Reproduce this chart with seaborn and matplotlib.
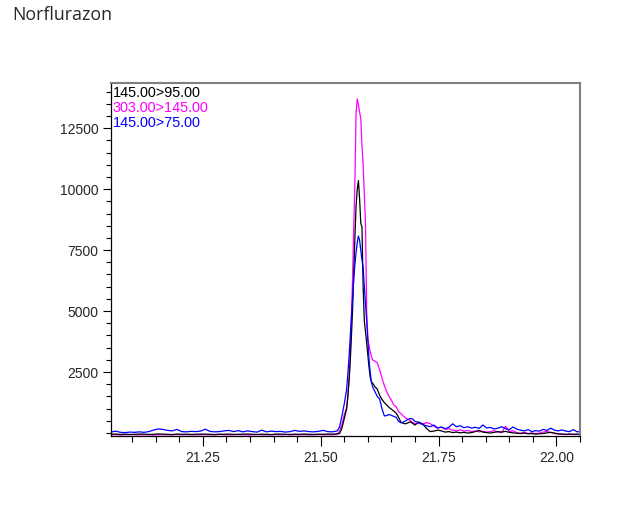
import numpy as np
import pandas as pd
import seaborn as sns
import matplotlib
matplotlib.use("Agg")
import matplotlib.pyplot as plt
from matplotlib.ticker import MultipleLocator, FixedLocator, FormatStrFormatter

# Retention time (min), shared scan times for the three MRM transitions
time_min = [
    21.055, 21.065, 21.075, 21.085, 21.095, 21.105, 21.115, 21.125, 21.135, 21.145,
    21.155, 21.165, 21.175, 21.185, 21.195, 21.205, 21.215, 21.225, 21.235, 21.245,
    21.255, 21.265, 21.275, 21.285, 21.295, 21.305, 21.315, 21.325, 21.335, 21.345,
    21.355, 21.365, 21.375, 21.385, 21.395, 21.405, 21.415, 21.425, 21.435, 21.445,
    21.455, 21.465, 21.475, 21.485, 21.495, 21.505, 21.515, 21.525, 21.535,
    21.540, 21.545, 21.550, 21.555, 21.5575, 21.560, 21.5625, 21.565, 21.5675, 21.570,
    21.5725, 21.575, 21.5775, 21.580, 21.5825, 21.585, 21.5875, 21.590, 21.5925, 21.595,
    21.5975, 21.600, 21.6025, 21.605, 21.6075, 21.610, 21.615, 21.620, 21.625, 21.630,
    21.635, 21.640, 21.645, 21.650, 21.655, 21.660, 21.665, 21.670, 21.675, 21.680,
    21.685, 21.690, 21.695, 21.700,
    21.708, 21.716, 21.724, 21.732, 21.740, 21.748, 21.756, 21.764, 21.772, 21.780,
    21.788, 21.796, 21.804, 21.812, 21.820, 21.828, 21.836, 21.844, 21.852, 21.860,
    21.868, 21.876, 21.884, 21.892, 21.900, 21.908, 21.916, 21.924, 21.932, 21.940,
    21.948, 21.956, 21.964, 21.972, 21.980, 21.988, 21.996, 22.004, 22.012, 22.020,
    22.028, 22.036, 22.044, 22.052,
]

# 145.00>95.00 (black)
trace_145_95 = [
    -50, -40, -55, -45, -60, -50, -40, -45, -55, -50,
    -35, -45, -50, -60, -40, -50, -45, -55, -50, -40,
    -45, -50, -60, -45, -50, -40, -55, -50, -45, -40,
    -50, -55, -45, -50, -60, -45, -40, -50, -55, -45,
    -50, -40, -50, -55, -45, -50, -40, -45, -30,
    -20, 200, 600, 1000, 1500, 2100, 2900, 3900, 5000, 6500,
    8000, 9300, 10000, 10350, 9600, 8600, 8450, 6000, 4600, 4150,
    3700, 3200, 2700, 2300, 2100, 2050, 1900, 1800, 1550, 1380,
    1250, 1150, 1050, 980, 900, 820, 650, 450, 400, 380,
    420, 460, 400, 330,
    450, 380, 200, 60, 80, 120, 90, 40, 60, 20,
    40, 10, 30, 0, 20, 60, 110, 40, 20, 0,
    30, 60, 40, 70, 30, 10, -10, -20, 0, -30,
    -20, -40, -30, -20, 10, 30, 0, -30, -40, -50,
    -40, -50, -45, -50,
]

# 303.00>145.00 (magenta)
trace_303_145 = [
    -70, -65, -75, -70, -60, -70, -75, -65, -70, -80,
    -70, -65, -70, -75, -60, -70, -65, -75, -70, -70,
    -65, -75, -70, -60, -70, -75, -70, -65, -70, -75,
    -70, -65, -70, -75, -70, -60, -70, -65, -75, -70,
    -70, -65, -75, -70, -60, -70, -65, -70, -50,
    80, 350, 750, 1050, 1500, 2200, 3100, 4700, 6300, 8400,
    10300, 13100, 13700, 13450, 13150, 12900, 11800, 11000, 9800, 8600,
    5000, 3900, 3600, 3350, 3150, 3000, 2950, 2880, 2600, 2250,
    1950, 1700, 1500, 1350, 1150, 1080, 880, 800, 700, 620,
    560, 520, 430, 390,
    400, 360, 430, 390, 280, 200, 240, 150, 180, 120,
    90, 130, 80, 110, 60, 90, 50, 70, 40, 60,
    100, 40, 20, 280, 60, 100, 20, -10, 30, -20,
    10, -30, 0, 40, 70, 20, -20, -40, -50, -60,
    -50, -60, -55, -60,
]

# 145.00>75.00 (blue)
trace_145_75 = [
    40, 80, 30, 20, 40, 30, 50, 30, 60, 120,
    170, 150, 110, 90, 150, 60, 50, 70, 60, 80,
    160, 70, 50, 60, 90, 110, 60, 100, 50, 90,
    60, 40, 120, 50, 80, 60, 70, 40, 60, 110,
    70, 90, 60, 50, 70, 110, 60, 50, 90,
    250, 700, 1200, 1800, 2400, 3100, 3900, 4700, 5500, 6300,
    6900, 7400, 7800, 8080, 7900, 7500, 7100, 6800, 6000, 5300,
    4600, 3800, 3000, 2500, 2100, 1900, 1700, 1500, 1400, 1000,
    700, 720, 760, 730, 680, 650, 480, 420, 450, 500,
    560, 600, 580, 480,
    440, 350, 300, 260, 330, 210, 250, 180, 240, 380,
    260, 300, 220, 260, 200, 240, 190, 330, 210, 230,
    170, 200, 260, 180, 140, 250, 160, 120, 90, 140,
    60, 100, 80, 150, 110, 200, 120, 90, 130, 80,
    60, 140, 50, 70,
]

transitions = ["145.00>95.00", "303.00>145.00", "145.00>75.00"]
colors = ["#000000", "#FF00FF", "#0000FF"]
x_tick_values = [21.25, 21.50, 21.75, 22.00]
y_tick_values = [2500, 5000, 7500, 10000, 12500]

df = pd.concat(
    [
        pd.DataFrame({"time": time_min, "intensity": vals, "transition": name})
        for name, vals in zip(transitions, [trace_145_95, trace_303_145, trace_145_75])
    ],
    ignore_index=True,
)

sns.set_style("white")
plt.rcParams["font.family"] = ["Liberation Sans", "DejaVu Sans"]

fig = plt.figure(figsize=(6.21, 5.18), dpi=100)
ax = fig.add_axes([0.1787, 0.1583, 0.7552, 0.6815])

draw_order = ["303.00>145.00", "145.00>95.00", "145.00>75.00"]
palette = dict(zip(transitions, colors))
sns.lineplot(
    data=df, x="time", y="intensity", hue="transition", hue_order=draw_order,
    palette=palette, estimator=None, sort=False, linewidth=0.9, legend=False, ax=ax,
)

ax.set_xlim(21.055, 22.05)
ax.set_ylim(-120, 14350)
ax.set_xlabel("")
ax.set_ylabel("")

ax.xaxis.set_major_locator(FixedLocator(x_tick_values))
ax.xaxis.set_major_formatter(FormatStrFormatter("%.2f"))
ax.xaxis.set_minor_locator(MultipleLocator(0.05))
ax.yaxis.set_major_locator(FixedLocator(y_tick_values))
ax.yaxis.set_major_formatter(FormatStrFormatter("%d"))
ax.yaxis.set_minor_locator(MultipleLocator(500))

ax.tick_params(axis="x", which="major", direction="out", length=7, width=0.8,
               color="black", labelsize=10, pad=4, bottom=True)
ax.tick_params(axis="x", which="minor", direction="out", length=4.3, width=0.8,
               color="black", bottom=True)
ax.tick_params(axis="y", which="major", direction="out", length=6, width=0.8,
               color="black", labelsize=10, pad=3, left=True)
ax.tick_params(axis="y", which="minor", direction="out", length=3.3, width=0.8,
               color="black", left=True)

for side in ["left", "bottom"]:
    ax.spines[side].set_color("black")
    ax.spines[side].set_linewidth(0.9)
for side in ["top", "right"]:
    ax.spines[side].set_visible(True)
    ax.spines[side].set_color("#7f7f7f")
    ax.spines[side].set_linewidth(1.5)

# Transition labels, coloured like their traces
for name, col, yb in zip(transitions, colors, [0.961, 0.919, 0.8745]):
    ax.text(0.004, yb, name, transform=ax.transAxes, color=col,
            fontsize=10.4, va="baseline", ha="left")

fig.text(12 / 621, 1 - 20 / 518, "Norflurazon", fontsize=12.8,
         family=["Open Sans", "DejaVu Sans"], va="baseline", ha="left")

fig.savefig("out.png", dpi=100)
